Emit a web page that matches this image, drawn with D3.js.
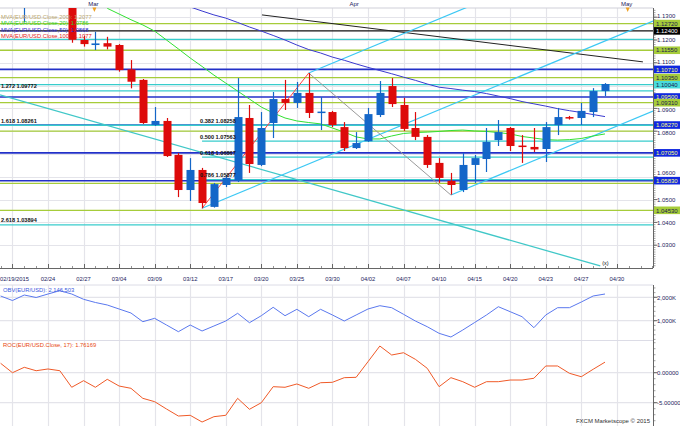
<!DOCTYPE html>
<html><head><meta charset="utf-8">
<script src="https://cdn.jsdelivr.net/npm/d3@7/dist/d3.min.js"></script>
<style>body{margin:0;background:#fff}svg{display:block}text{font-family:"Liberation Sans",Arial,sans-serif}</style>
</head><body><svg id="c" width="680" height="426"></svg>
<script>
// ---------- DATA ----------
const candleIdx = d3.range(-6, 46);
const opens  = [1.1410,1.1405,1.1349,1.1379,1.1355,1.1368,1.1362,1.1200,1.1178,1.1186,1.1178,1.1071,1.1025,1.0827,1.0845,1.0696,1.0542,1.0630,1.0468,1.0564,1.0582,1.0858,1.0652,1.0836,1.0941,1.0924,1.0968,1.0880,1.0884,1.0818,1.0726,1.0756,1.0871,1.0998,1.0915,1.0814,1.0775,1.0661,1.0582,1.0542,1.0652,1.0678,1.0761,1.0814,1.0737,1.0731,1.0722,1.0827,1.0862,1.0858,1.0884,1.0976];
const highs  = [1.1440,1.1435,1.1449,1.1390,1.1380,1.1395,1.1387,1.1218,1.1236,1.1214,1.1182,1.1112,1.1029,1.0906,1.0858,1.0704,1.0682,1.0639,1.0573,1.0608,1.1033,1.0915,1.0884,1.0972,1.1025,1.1016,1.1055,1.0950,1.0889,1.0840,1.0796,1.0902,1.1020,1.1033,1.0946,1.0884,1.0783,1.0682,1.0617,1.0704,1.0696,1.0814,1.0849,1.0818,1.0783,1.0814,1.0840,1.0902,1.0867,1.0924,1.0989,1.1011];
const lows   = [1.1370,1.1351,1.1277,1.1345,1.1342,1.1348,1.1188,1.1171,1.1156,1.1159,1.1061,1.0988,1.0832,1.0823,1.0687,1.0511,1.0494,1.0462,1.0465,1.0555,1.0577,1.0617,1.0647,1.0770,1.0893,1.0902,1.0858,1.0805,1.0818,1.0713,1.0722,1.0753,1.0862,1.0906,1.0801,1.0761,1.0639,1.0573,1.0522,1.0533,1.0573,1.0621,1.0735,1.0713,1.0661,1.0709,1.0665,1.0783,1.0851,1.0827,1.0862,1.0954];
const closes = [1.1405,1.1374,1.1379,1.1355,1.1368,1.1362,1.1201,1.1182,1.1185,1.1171,1.1068,1.1017,1.0836,1.0845,1.0691,1.0542,1.0630,1.0485,1.0568,1.0595,1.0862,1.0656,1.0814,1.0941,1.0924,1.0968,1.0880,1.0886,1.0827,1.0726,1.0748,1.0875,1.0968,1.0919,1.0810,1.0775,1.0652,1.0595,1.0564,1.0652,1.0682,1.0753,1.0796,1.0735,1.0731,1.0720,1.0818,1.0862,1.0856,1.0889,1.0976,1.1007];
const ma20 = [null,null,null,null,null,null,null,null,null,1.1339,1.1314,1.1289,1.1266,1.1239,1.1200,1.1161,1.1121,1.1084,1.1046,1.1011,1.0976,1.0941,1.0906,1.0880,1.0858,1.0845,1.0838,1.0832,1.0814,1.0796,1.0775,1.0766,1.0766,1.0779,1.0790,1.0794,1.0796,1.0799,1.0803,1.0805,1.0801,1.0799,1.0794,1.0788,1.0777,1.0770,1.0763,1.0761,1.0763,1.0768,1.0779,1.0788];
const ma50 = [null,null,null,null,null,null,null,null,null,null,null,null,null,null,null,null,1.1345,1.1327,1.1310,1.1296,1.1277,1.1257,1.1239,1.1220,1.1200,1.1178,1.1158,1.1143,1.1125,1.1111,1.1095,1.1080,1.1066,1.1052,1.1037,1.1023,1.1007,1.0993,1.0987,1.0980,1.0974,1.0965,1.0954,1.0943,1.0930,1.0920,1.0910,1.0899,1.0890,1.0882,1.0873,1.0864];
const obvK = [2056,1863,2098,1991,2141,2282,2141,1915,1778,1671,1500,1329,957,1102,816,530,816,560,773,987,1316,914,1214,1573,1214,1487,1171,1487,1244,987,1244,1500,1641,1556,1273,987,743,461,303,602,923,1244,1598,1385,1171,701,1244,1556,1556,1799,2056,2141];
const roc = [1.57,0.0,0.9,0.33,0.62,0.33,-2.43,-1.33,-2.43,-1.1,-2.22,-2.6,-4.27,-4.83,-6.05,-7.22,-7.1,-8.22,-7.33,-7.1,-4.27,-6.1,-5.0,-2.33,-2.43,-1.88,-2.6,-1.67,-1.6,-0.83,-0.77,1.83,4.45,2.95,3.33,2.23,0.73,-2.33,-0.83,-1.5,-2.43,-1.5,-1.5,-1.22,-1.22,-0.93,1.12,1.12,-0.1,-0.67,0.57,1.76];

const dateTickIdx = [-5,-2,1,4,7,10,13,16,19,22,25,28,31,34,37,40,43,46];
const dateTickLabels = ["02/19/2015","02/24","02/27","03/04","03/09","03/12","03/17","03/20","03/25","03/30","04/02","04/07","04/10","04/15","04/20","04/23","04/27","04/30"];
const monthIdx = [2,24,47];
const monthLabels = ["Mar","Apr","May"];
const monthMarked = [true,false,true];
const priceTicks = [1.03,1.04,1.05,1.06,1.07,1.08,1.09,1.10,1.11,1.12,1.13];
const obvTicks = [1000,2000];
const obvTickLabels = ["1,000K","2,000K"];
const rocTicks = [-5,0];
const rocTickLabels = ["-5.00000","0.00000"];

// horizontal support/resistance levels
const levelPrices = [1.1272,1.1240,1.1203,1.1155,1.1071,1.1035,1.1004,1.0950,1.0925,1.0827,1.0800,1.0705,1.0583,1.0571,1.0453];
const levelKinds  = ["lime","black","teal","lime","blue","lime","teal","blue","lime","blue","lime","blue","blue","lime","lime"];
const levelBoxed  = [true,true,false,true,true,true,true,true,true,true,false,true,true,false,true];
const levelBoxText= ["1.12720","1.12400","","1.11550","1.10710","1.10350","1.10040","1.09500","1.09310","1.08270","","1.07050","1.05830","","1.04530"];

// fibonacci retracement (from 03/13 low to 03/26 high)
const fibStartIdx = 11;
const fibRatios = ["0.382","0.500","0.618","0.786"];
const fibPrices = [1.08258,1.07563,1.06867,1.05877];
// fibonacci extensions (full width)
const extRatios = ["1.272","1.618","2.618"];
const extPrices = [1.09772,1.08261,1.03894];

// trend lines: [startIdx, startPrice, endIdx, endPrice]
const trendBlack = [16.06,1.1310,48.2,1.1104];
const trendTeal  = [-6.05,1.0959,44.6,1.0209];
const channelA   = [11,1.0462,49.05,1.1283];
const channelB   = [20,1.1055,35,1.1379];
const channelC   = [32,1.0520,49.05,1.0888];
const zigUp      = [11,1.0462,20,1.1055];
const zigDown    = [20,1.1055,32,1.0520];

const legendTexts = ["MVA(EUR/USD.Close,200): 1.2077","MVA(EUR/USD.Close,20): 1.0786","MVA(EUR/USD.Close,50): 1.0868","MVA(EUR/USD.Close,100): 1.1077"];
const obvLegend = "OBV(EUR/USD): 2,146,503";
const rocLegend = "ROC(EUR/USD.Close, 17): 1.76169";

// ---------- STYLE ----------
const C = {lime:"#a6cc3a",black:"#111",teal:"#38cccc",blue:"#2230c8",sky:"#3cc8f4",green:"#33e033",ma50:"#3a3ad0",
  up:"#1466c8",down:"#dd0a0a",grid:"#e4e4ea",axis:"#666",txt:"#23235e"};
const boxFill = {lime:"#a6cc3a",black:"#000",teal:"#48dcdc",blue:"#1028e0"};
const boxTxt  = {lime:"#1a1a50",black:"#fff",teal:"#1a1a50",blue:"#ffff80"};

const svg = d3.select("#c");
const PW = 653, MT = 8, MB = 268;
const x = d3.scaleLinear().domain([-6.05,49.05]).range([0,PW]);
const y = d3.scaleLinear().domain([1.03,1.13]).range([245.2,17.2]);
const yObv = d3.scaleLinear().domain([1000,2000]).range([320.7,297.3]);
const yRoc = d3.scaleLinear().domain([-5,0]).range([402.7,372.7]);
const panels = [{t:MT,b:MB},{t:285,b:340.5},{t:341,b:426}];

const defs = svg.append("defs");
panels.forEach((p,k)=>defs.append("clipPath").attr("id","cp"+k).append("rect").attr("x",0).attr("y",p.t).attr("width",PW).attr("height",p.b-p.t));

// grids
panels.forEach(p=>{
  svg.append("g").selectAll("line").data(dateTickIdx).join("line")
    .attr("x1",d=>Math.round(x(d))+0.5).attr("x2",d=>Math.round(x(d))+0.5).attr("y1",p.t).attr("y2",p.b)
    .attr("stroke",C.grid).attr("stroke-width",1.2);
});
svg.append("g").selectAll("line").data(priceTicks).join("line")
  .attr("x1",0).attr("x2",PW).attr("y1",d=>Math.round(y(d))+0.5).attr("y2",d=>Math.round(y(d))+0.5).attr("stroke",C.grid).attr("stroke-width",1.2);
svg.append("g").selectAll("line").data(obvTicks).join("line")
  .attr("x1",0).attr("x2",PW).attr("y1",d=>yObv(d)).attr("y2",d=>yObv(d)).attr("stroke",C.grid).attr("stroke-width",1.2);
svg.append("g").selectAll("line").data(rocTicks).join("line")
  .attr("x1",0).attr("x2",PW).attr("y1",d=>yRoc(d)).attr("y2",d=>yRoc(d)).attr("stroke",C.grid).attr("stroke-width",1.2);
[285,340.5].forEach(v=>svg.append("line").attr("x1",0).attr("x2",PW).attr("y1",v).attr("y2",v).attr("stroke","#dcdce6"));
svg.append("line").attr("x1",0).attr("x2",PW).attr("y1",MT).attr("y2",MT).attr("stroke","#cfcfd8");

// main plot
const g = svg.append("g").attr("clip-path","url(#cp0)");
const seg = (arr,col,w)=>g.append("line").attr("x1",x(arr[0])).attr("y1",y(arr[1])).attr("x2",x(arr[2])).attr("y2",y(arr[3])).attr("stroke",col).attr("stroke-width",w||1);

levelPrices.forEach((p,k)=>{
  g.append("line").attr("x1",0).attr("x2",PW).attr("y1",y(p)).attr("y2",y(p)).attr("stroke",C[levelKinds[k]]).attr("stroke-width",levelKinds[k]==="blue"?1.6:1.3);
});
extPrices.forEach(p=>g.append("line").attr("x1",0).attr("x2",PW).attr("y1",y(p)).attr("y2",y(p)).attr("stroke",C.teal).attr("stroke-width",1.3));
fibPrices.forEach(p=>g.append("line").attr("x1",x(fibStartIdx)).attr("x2",PW).attr("y1",y(p)).attr("y2",y(p)).attr("stroke",C.teal).attr("stroke-width",1.3));

seg(trendBlack,"#222",1);
seg(trendTeal,"#40c8c8",1.3);
seg(channelA,C.sky,1.2);
seg(channelB,C.sky,1.2);
seg(channelC,C.sky,1.2);
seg(zigUp,"#ff4040",1);
seg(zigDown,"#9a9a9a",1);

const lineGen = sc=>d3.line().defined(d=>d[1]!=null).x(d=>x(d[0])).y(d=>sc(d[1]));
g.append("path").datum(candleIdx.map((d,k)=>[d,ma20[k]])).attr("d",lineGen(y)).attr("fill","none").attr("stroke",C.green).attr("stroke-width",1);
g.append("path").datum(candleIdx.map((d,k)=>[d,ma50[k]])).attr("d",lineGen(y)).attr("fill","none").attr("stroke",C.ma50).attr("stroke-width",1);

// candles
const cg = g.append("g");
candleIdx.forEach((d,k)=>{
  const up = closes[k]>=opens[k], col = up?C.up:C.down;
  const cx = Math.round(x(d))+0.5;
  cg.append("line").attr("x1",cx).attr("x2",cx).attr("y1",y(highs[k])).attr("y2",y(lows[k])).attr("stroke",col).attr("stroke-width",1.2);
  const top = y(Math.max(opens[k],closes[k])), bot = y(Math.min(opens[k],closes[k]));
  cg.append("rect").attr("x",cx-4).attr("width",8).attr("y",top).attr("height",Math.max(1.5,bot-top)).attr("fill",col);
});

// fib labels
const lab = g.append("g").attr("font-size",5.6).attr("fill","#111").attr("font-weight","bold");
extRatios.forEach((r,k)=>lab.append("text").attr("x",1).attr("y",y(extPrices[k])-2.5).text(r+" "+extPrices[k].toFixed(5)));
fibRatios.forEach((r,k)=>lab.append("text").attr("x",x(fibStartIdx)-2).attr("y",y(fibPrices[k])-2.5).text(r+" "+fibPrices[k].toFixed(5)));
g.append("text").attr("x",x(trendTeal[2])+2).attr("y",y(trendTeal[3])-1).attr("font-size",5.5).attr("fill","#111").text("(x)");

// legend
const lg = svg.append("g").attr("font-size",5.8);
const legCols = ["#b9a66e","#2ccc2c","#2a2ad0","#e01818"];
legendTexts.forEach((t,k)=>lg.append("text").attr("x",1).attr("y",19+k*6.3).attr("fill",legCols[k]).text(t));

// right price axis
const ax = svg.append("g");
ax.append("line").attr("x1",PW+0.5).attr("x2",PW+0.5).attr("y1",MT).attr("y2",MB).attr("stroke",C.axis);
ax.append("line").attr("x1",PW+0.5).attr("x2",PW+0.5).attr("y1",285).attr("y2",426).attr("stroke",C.axis);
const minorP = d3.range(1.021,1.134,0.001);
ax.selectAll(".mp").data(minorP).join("line").attr("x1",PW).attr("x2",PW+2.5).attr("y1",d=>y(d)).attr("y2",d=>y(d)).attr("stroke",C.axis).attr("stroke-width",0.6);
ax.selectAll(".MP").data(priceTicks).join("line").attr("x1",PW).attr("x2",PW+4.5).attr("y1",d=>y(d)).attr("y2",d=>y(d)).attr("stroke",C.axis);

// tick labels: hide where a level box sits on top, nudge where partly covered
const boxYs = levelPrices.filter((p,k)=>levelBoxed[k]).map(p=>y(p));
priceTicks.forEach(t=>{
  let yy = y(t), show = true;
  boxYs.forEach(b=>{
    const d = yy-b;
    if(Math.abs(d)<3.5) show=false;
    else if(Math.abs(d)<7.5) yy = b+Math.sign(d)*7.5;
  });
  if(show) ax.append("text").attr("x",PW+4).attr("y",yy+2.2).attr("font-size",6).attr("fill",C.txt).text(t.toFixed(4));
});

// level boxes
levelPrices.forEach((p,k)=>{
  if(!levelBoxed[k]) return;
  const yy = y(p);
  ax.append("rect").attr("x",PW+1).attr("y",yy-3.8).attr("width",26).attr("height",7.6).attr("fill",boxFill[levelKinds[k]]);
  ax.append("text").attr("x",PW+3).attr("y",yy+2.2).attr("font-size",6).attr("fill",boxTxt[levelKinds[k]]).text(levelBoxText[k]);
});

// sub axes
const minorO = d3.range(-200,3000,200);
ax.selectAll(".mo").data(minorO.filter(v=>yObv(v)>286&&yObv(v)<340)).join("line").attr("x1",PW).attr("x2",PW+2.5).attr("y1",d=>yObv(d)).attr("y2",d=>yObv(d)).attr("stroke",C.axis).attr("stroke-width",0.6);
obvTicks.forEach((v,k)=>{ax.append("line").attr("x1",PW).attr("x2",PW+4.5).attr("y1",yObv(v)).attr("y2",yObv(v)).attr("stroke",C.axis);
  ax.append("text").attr("x",PW+4).attr("y",yObv(v)+2.2).attr("font-size",6).attr("fill",C.txt).text(obvTickLabels[k]);});
const minorR = d3.range(-10,8,1);
ax.selectAll(".mr").data(minorR.filter(v=>yRoc(v)>342&&yRoc(v)<426)).join("line").attr("x1",PW).attr("x2",PW+2.5).attr("y1",d=>yRoc(d)).attr("y2",d=>yRoc(d)).attr("stroke",C.axis).attr("stroke-width",0.6);
rocTicks.forEach((v,k)=>{ax.append("line").attr("x1",PW).attr("x2",PW+4.5).attr("y1",yRoc(v)).attr("y2",yRoc(v)).attr("stroke",C.axis);
  ax.append("text").attr("x",PW+4).attr("y",yRoc(v)+2.2).attr("font-size",6).attr("fill",C.txt).text(rocTickLabels[k]);});

// bottom date axis
const bx = svg.append("g");
bx.append("line").attr("x1",0).attr("x2",PW).attr("y1",MB+0.5).attr("y2",MB+0.5).attr("stroke",C.axis);
bx.selectAll(".mi").data(d3.range(-6,50)).join("line").attr("x1",d=>Math.round(x(d))+0.5).attr("x2",d=>Math.round(x(d))+0.5).attr("y1",MB).attr("y2",MB-2).attr("stroke",C.axis).attr("stroke-width",0.7);
bx.selectAll(".ma").data(dateTickIdx).join("line").attr("x1",d=>Math.round(x(d))+0.5).attr("x2",d=>Math.round(x(d))+0.5).attr("y1",MB).attr("y2",MB-4).attr("stroke",C.axis);
bx.selectAll(".dl").data(dateTickIdx).join("text").attr("x",(d,k)=>k===0?0:x(d)).attr("y",281).attr("text-anchor",(d,k)=>k===0?"start":"middle")
  .attr("font-size",5.8).attr("fill",C.txt).text((d,k)=>dateTickLabels[k]);

// month strip
monthIdx.forEach((d,k)=>{
  svg.append("text").attr("x",x(d)-2).attr("y",6).attr("text-anchor","middle").attr("font-size",6).attr("fill",C.txt).text(monthLabels[k]);
  if(monthMarked[k]) svg.append("path").attr("d",`M${x(d)-3},7.5 L${x(d)+1},7.5 L${x(d)-1},12 Z`).attr("fill","#f0a020");
});

// OBV panel
const go = svg.append("g").attr("clip-path","url(#cp1)");
go.append("path").datum(candleIdx.map((d,k)=>[d,obvK[k]])).attr("d",lineGen(yObv)).attr("fill","none").attr("stroke","#5a78ee").attr("stroke-width",1);
svg.append("text").attr("x",3).attr("y",291.5).attr("font-size",5.8).attr("fill","#3a5ae0").text(obvLegend);

// ROC panel
const gr = svg.append("g").attr("clip-path","url(#cp2)");
gr.append("path").datum(candleIdx.map((d,k)=>[d,roc[k]])).attr("d",lineGen(yRoc)).attr("fill","none").attr("stroke","#f05a28").attr("stroke-width",1);
svg.append("text").attr("x",3).attr("y",347).attr("font-size",5.8).attr("fill","#e84a10").text(rocLegend);
svg.append("text").attr("x",650).attr("y",423).attr("text-anchor","end").attr("font-size",6).attr("fill","#333").text("FXCM Marketscope © 2015");
</script></body></html>
